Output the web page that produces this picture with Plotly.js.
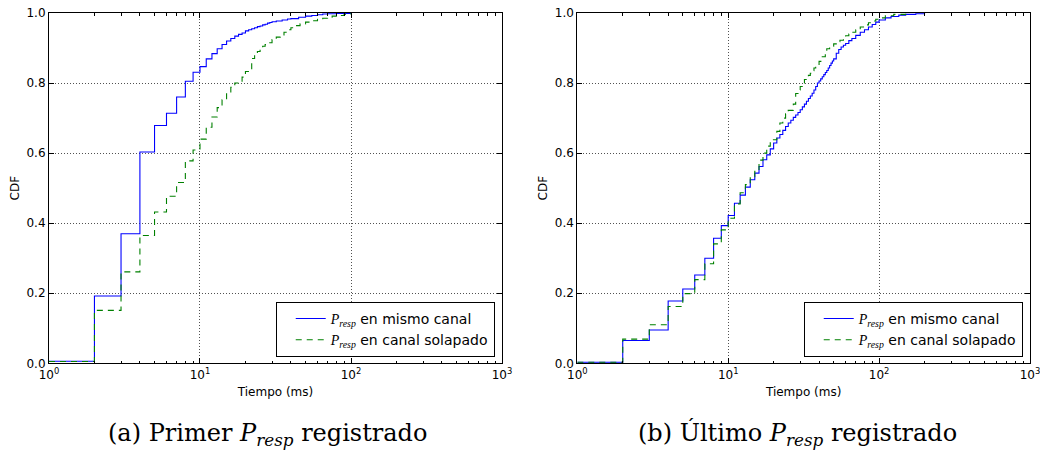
<!DOCTYPE html>
<html>
<head>
<meta charset="utf-8">
<script src="https://cdn.plot.ly/plotly-3.0.1.min.js"></script>
<style>html,body{margin:0;padding:0;background:#fff;}#chart{width:1040px;height:453px;}</style>
</head>
<body>
<div id="chart"></div>
<script>
// ---- Data ----
// (a) Primer P_resp registrado
const aMismoX = [1, 2, 3, 4, 5, 6, 7, 8, 9, 10, 11, 12, 13, 14, 15, 16, 17, 18, 19, 20, 21, 22, 23, 24, 25, 26, 27, 28, 29, 30, 32, 35, 38, 40, 45, 50, 55, 60, 65, 70, 80, 100];
const aMismoY = [0.006, 0.192, 0.370, 0.603, 0.679, 0.714, 0.760, 0.805, 0.831, 0.847, 0.869, 0.884, 0.898, 0.910, 0.920, 0.927, 0.934, 0.939, 0.943, 0.949, 0.952, 0.955, 0.958, 0.961, 0.963, 0.966, 0.968, 0.971, 0.973, 0.975, 0.977, 0.980, 0.983, 0.984, 0.988, 0.991, 0.993, 0.995, 0.997, 0.998, 0.999, 1.0];
const aSolapX = [1, 2, 3, 4, 5, 6, 7, 8, 9, 10, 11, 12, 13, 14, 15, 16, 17, 18, 19, 20, 22, 23, 24, 25, 26, 27, 28, 30, 32, 34, 36, 38, 40, 43, 46, 50, 55, 60, 65, 70, 75, 80, 90, 100];
const aSolapY = [0.005, 0.151, 0.261, 0.365, 0.432, 0.477, 0.516, 0.578, 0.609, 0.640, 0.674, 0.703, 0.730, 0.752, 0.772, 0.788, 0.800, 0.803, 0.817, 0.833, 0.870, 0.880, 0.890, 0.900, 0.905, 0.910, 0.915, 0.924, 0.931, 0.937, 0.945, 0.952, 0.958, 0.964, 0.969, 0.974, 0.978, 0.982, 0.985, 0.988, 0.991, 0.993, 0.996, 1.0];
// (b) Ultimo P_resp registrado
const bMismoX = [1, 2, 3, 4, 5, 6, 7, 8, 9, 10, 11, 12, 13, 14, 15, 16, 17, 18, 19, 20, 21, 22, 23, 24, 25, 26, 27, 28, 29, 30, 31, 32, 33, 34, 35, 36, 37, 38, 39, 40, 41, 42, 43, 44, 45, 46, 47, 48, 49, 50, 52, 54, 56, 58, 60, 63, 66, 70, 75, 80, 85, 90, 95, 100, 110, 120, 135, 150, 175, 200];
const bMismoY = [0.003, 0.065, 0.095, 0.178, 0.212, 0.252, 0.300, 0.357, 0.393, 0.422, 0.457, 0.480, 0.503, 0.524, 0.543, 0.562, 0.581, 0.595, 0.612, 0.629, 0.643, 0.653, 0.665, 0.676, 0.686, 0.694, 0.702, 0.709, 0.716, 0.724, 0.732, 0.740, 0.748, 0.756, 0.763, 0.771, 0.780, 0.790, 0.800, 0.806, 0.812, 0.818, 0.824, 0.830, 0.836, 0.843, 0.850, 0.857, 0.863, 0.869, 0.885, 0.896, 0.903, 0.908, 0.913, 0.921, 0.927, 0.936, 0.945, 0.952, 0.960, 0.967, 0.974, 0.980, 0.986, 0.990, 0.994, 0.996, 0.998, 1.0];
const bSolapX = [1, 2, 3, 4, 5, 6, 7, 8, 9, 10, 11, 12, 13, 14, 15, 16, 17, 18, 19, 21, 22, 23, 24, 25, 27, 28, 29, 30, 31, 32, 33, 34, 35, 36, 37, 38, 40, 42, 44, 45, 47, 50, 52, 55, 58, 60, 63, 66, 70, 75, 80, 85, 90, 95, 100, 110, 125, 150];
const bSolapY = [0.003, 0.069, 0.110, 0.162, 0.199, 0.239, 0.284, 0.341, 0.381, 0.414, 0.455, 0.487, 0.510, 0.533, 0.548, 0.580, 0.600, 0.620, 0.638, 0.662, 0.686, 0.700, 0.712, 0.722, 0.740, 0.770, 0.780, 0.790, 0.800, 0.810, 0.816, 0.822, 0.828, 0.835, 0.843, 0.850, 0.862, 0.875, 0.890, 0.898, 0.905, 0.912, 0.918, 0.922, 0.930, 0.935, 0.940, 0.945, 0.952, 0.960, 0.966, 0.972, 0.977, 0.982, 0.986, 0.992, 0.996, 1.0];

const seriesNames = [
  "<span style=\"font-family:'Liberation Serif'\"><i>P</i><sub><i>resp</i></sub></span> en mismo canal",
  "<span style=\"font-family:'Liberation Serif'\"><i>P</i><sub><i>resp</i></sub></span> en canal solapado"
];
const xTickVals = [1, 10, 100, 1000];
const xTickText = ["10<sup>0</sup>", "10<sup>1</sup>", "10<sup>2</sup>", "10<sup>3</sup>"];
const yTickVals = [0, 0.2, 0.4, 0.6, 0.8, 1.0];
const captions = [
  "(a) Primer <i>P<sub>resp</sub></i> registrado",
  "(b) Último <i>P<sub>resp</sub></i> registrado"
];

// ---- Build ----
const minorVals = [];
[1, 10, 100].forEach(d => { for (let k = 2; k <= 9; k++) minorVals.push(k * d); });

const blue = '#0000ff', green = '#008000';
function tr(x, y, name, color, dash, xa, ya, leg) {
  return {
    x: x, y: y, name: name, type: 'scatter', mode: 'lines', xaxis: xa, yaxis: ya, legend: leg,
    line: {shape: 'hv', color: color, width: 1.1, dash: dash}, hoverinfo: 'skip'
  };
}
const data = [
  tr(aMismoX, aMismoY, seriesNames[0], blue, 'solid', 'x', 'y', 'legend'),
  tr(aSolapX, aSolapY, seriesNames[1], green, '6px,5px', 'x', 'y', 'legend'),
  tr(bMismoX, bMismoY, seriesNames[0], blue, 'solid', 'x2', 'y2', 'legend2'),
  tr(bSolapX, bSolapY, seriesNames[1], green, '6px,5px', 'x2', 'y2', 'legend2')
];

const font = {family: 'DejaVu Sans', size: 12, color: '#000'};
function xaxis(dom, anchor) {
  return {
    type: 'log', range: [0, 3], domain: dom, anchor: anchor,
    tickmode: 'array', tickvals: xTickVals, ticktext: xTickText,
    ticks: 'inside', ticklen: 5, tickcolor: '#000', tickwidth: 1,
    ticklabeloverflow: 'allow',
    minor: {tickmode: 'array', tickvals: minorVals, ticks: 'inside', ticklen: 2.5, tickcolor: '#000', showgrid: false},
    showline: true, linecolor: '#000', linewidth: 1, mirror: 'allticks',
    showgrid: true, gridcolor: 'rgba(0,0,0,0.85)', gridwidth: 0.8, griddash: '1px,2px',
    zeroline: false, tickfont: {family: 'DejaVu Sans', size: 12, color: '#000'},
    title: {text: 'Tiempo (ms)', font: {family: 'DejaVu Sans', size: 12, color: '#000'}, standoff: 6},
    fixedrange: true
  };
}
function yaxis(anchor) {
  return {
    range: [0, 1], domain: [0.198, 0.9713], anchor: anchor,
    tickmode: 'array', tickvals: yTickVals, tickformat: '.1f',
    ticks: 'inside', ticklen: 5, tickcolor: '#000',
    showline: true, linecolor: '#000', linewidth: 1, mirror: 'allticks',
    showgrid: true, gridcolor: 'rgba(0,0,0,0.85)', gridwidth: 0.8, griddash: '1px,2px',
    zeroline: false, tickfont: {family: 'DejaVu Sans', size: 12, color: '#000'},
    title: {text: 'CDF', font: {family: 'DejaVu Sans', size: 12, color: '#000'}, standoff: 4},
    fixedrange: true
  };
}
function legend(xr) {
  return {
    x: xr, xanchor: 'right', y: 0.212, yanchor: 'bottom',
    bgcolor: '#fff', bordercolor: '#000', borderwidth: 1,
    font: {family: 'DejaVu Sans', size: 14, color: '#000'},
    tracegroupgap: 0, indentation: 14
  };
}
const capFont = {family: 'DejaVu Serif', size: 24, color: '#000'};
const layout = {
  width: 1040, height: 453,
  margin: {l: 0, r: 0, t: 0, b: 0},
  paper_bgcolor: '#fff', plot_bgcolor: '#fff',
  font: font, showlegend: true,
  xaxis: xaxis([0.0471, 0.4827], 'y'),
  yaxis: yaxis('x'),
  xaxis2: xaxis([0.5551, 0.9904], 'y2'),
  yaxis2: yaxis('x2'),
  legend: legend(0.4757),
  legend2: legend(0.9834),
  annotations: [
    {text: captions[0], x: 267 / 1040, y: 1 - 434 / 453, xref: 'paper', yref: 'paper', showarrow: false,
     xanchor: 'center', yanchor: 'middle', font: capFont},
    {text: captions[1], x: 797 / 1040, y: 1 - 434 / 453, xref: 'paper', yref: 'paper', showarrow: false,
     xanchor: 'center', yanchor: 'middle', font: capFont}
  ]
};
Plotly.newPlot('chart', data, layout, {displayModeBar: false, staticPlot: true});
</script>
</body>
</html>
